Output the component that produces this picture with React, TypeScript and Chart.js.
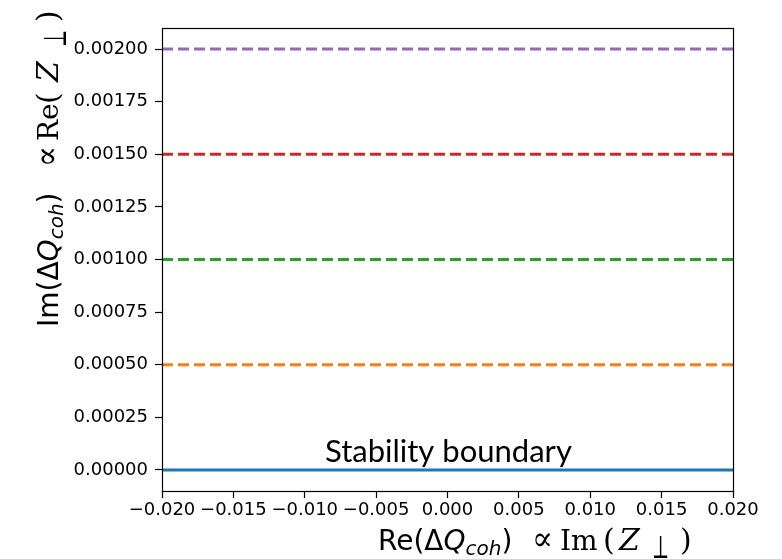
import React, { useEffect, useRef } from 'react';
import { Chart, registerables } from 'chart.js';

Chart.register(...registerables);

// ---- data ----
const xRange = [-0.02, 0.02];
const levels = [0, 0.0005, 0.001, 0.0015, 0.002];
const levelColors = ['#1f77b4', '#ff7f0e', '#2ca02c', '#d62728', '#9467bd'];
const levelDashed = [false, true, true, true, true];
const xTickValues = [-0.02, -0.015, -0.01, -0.005, 0, 0.005, 0.01, 0.015, 0.02];
const yTickValues = [0, 0.00025, 0.0005, 0.00075, 0.001, 0.00125, 0.0015, 0.00175, 0.002];
const yMin = -0.0001;
const yMax = 0.0021;
const annotationText = 'Stability boundary';

const SANS = '"DejaVu Sans"';
const SERIF = '"DejaVu Serif"';

type Run = { t: string; f: string; x?: number; dy?: number; w?: number };

const xTitleRuns: Run[] = [
  { t: 'Re(', f: `28px ${SANS}`, x: 0 },
  { t: 'Δ', f: `28px ${SANS}` },
  { t: 'Q', f: `oblique 28px ${SANS}` },
  { t: 'coh', f: `oblique 20px ${SANS}`, dy: 5 },
  { t: ')', f: `28px ${SANS}` },
  { t: '∝', f: `34px ${SERIF}`, x: 154, w: 21 },
  { t: 'Im', f: `28px ${SERIF}`, x: 182 },
  { t: '(', f: `30px ${SERIF}`, x: 225 },
  { t: 'Z', f: `italic 30px ${SERIF}`, x: 241 },
  { t: '⊥', f: `32px ${SERIF}`, x: 274, dy: 8, w: 17 },
  { t: ')', f: `30px ${SERIF}`, x: 302 },
];

const yTitleRuns: Run[] = [
  { t: 'Im(', f: `28px ${SANS}`, x: 0 },
  { t: 'Δ', f: `28px ${SANS}` },
  { t: 'Q', f: `oblique 28px ${SANS}` },
  { t: 'coh', f: `oblique 20px ${SANS}`, dy: 5 },
  { t: ')', f: `28px ${SANS}` },
  { t: '∝', f: `34px ${SERIF}`, x: 160, w: 21 },
  { t: 'Re', f: `28px ${SERIF}`, x: 186 },
  { t: '(', f: `30px ${SERIF}`, x: 223 },
  { t: 'Z', f: `italic 30px ${SERIF}`, x: 245 },
  { t: '⊥', f: `32px ${SERIF}`, x: 280, dy: 8, w: 17 },
  { t: ')', f: `30px ${SERIF}`, x: 305 },
];

function drawRuns(ctx: CanvasRenderingContext2D, runs: Run[]) {
  let cx = 0;
  for (const r of runs) {
    if (r.x !== undefined) cx = r.x;
    ctx.font = r.f;
    const mw = ctx.measureText(r.t).width;
    if (r.w) {
      // fit glyph horizontally to the target width
      ctx.save();
      ctx.translate(cx, r.dy || 0);
      ctx.scale(r.w / mw, 1);
      ctx.fillText(r.t, 0, 0);
      ctx.restore();
      cx += r.w;
    } else {
      ctx.fillText(r.t, cx, r.dy || 0);
      cx += mw;
    }
  }
}

const overlayPlugin = {
  id: 'overlay',
  afterDraw(chart: any) {
    const ctx: CanvasRenderingContext2D = chart.ctx;
    const a = chart.chartArea;
    ctx.save();
    // frame
    ctx.strokeStyle = '#000';
    ctx.lineWidth = 1.2;
    ctx.strokeRect(Math.round(a.left) + 0.5, Math.round(a.top) + 0.5, Math.round(a.right - a.left), Math.round(a.bottom - a.top));

    ctx.fillStyle = '#000';
    ctx.textBaseline = 'alphabetic';
    ctx.textAlign = 'left';

    // x title
    ctx.save();
    ctx.translate(378, 550);
    drawRuns(ctx, xTitleRuns);
    ctx.restore();

    // y title
    ctx.save();
    ctx.translate(58, 327);
    ctx.rotate(-Math.PI / 2);
    drawRuns(ctx, yTitleRuns);
    ctx.restore();

    // annotation text
    let size = 30;
    ctx.font = `${size}px Lato`;
    const w = ctx.measureText(annotationText).width;
    size = size * 247 / w;
    ctx.font = `${size}px Lato`;
    ctx.fillText(annotationText, 325, 462);
    ctx.restore();
  },
};

const fmtX = (v: number) => (v < -1e-12 ? '\u2212' : '') + Math.abs(v).toFixed(3);
const fmtY = (v: number) => Math.abs(v) < 1e-12 ? '0.00000' : v.toFixed(5);

export default function App() {
  const ref = useRef<HTMLCanvasElement>(null);
  useEffect(() => {
    if (!ref.current) return;
    const chart = new Chart(ref.current, {
      type: 'line',
      data: {
        datasets: levels.map((lv, i) => ({
          label: String(lv),
          data: xRange.map((x) => ({ x, y: lv })),
          borderColor: levelColors[i],
          backgroundColor: levelColors[i],
          borderWidth: 3,
          borderDash: levelDashed[i] ? [11, 5] : [],
          borderCapStyle: 'butt',
          pointRadius: 0,
          fill: false,
          tension: 0,
        })),
      },
      options: {
        responsive: false,
        animation: false,
        events: [],
        layout: { padding: { left: 0, right: 49, top: 28, bottom: 0 } },
        plugins: { legend: { display: false }, tooltip: { enabled: false }, title: { display: false } },
        scales: {
          x: {
            type: 'linear',
            min: xRange[0],
            max: xRange[1],
            afterBuildTicks: (s: any) => { s.ticks = xTickValues.map((v) => ({ value: v })); },
            afterFit: (s: any) => { s.height = 68; },
            ticks: {
              callback: (v: any) => fmtX(Number(v)),
              font: { family: 'DejaVu Sans', size: 18 },
              color: '#000',
              maxRotation: 0,
              autoSkip: false,
              padding: 2,
            },
            grid: { drawOnChartArea: false, drawTicks: true, tickLength: 7, tickColor: '#000', tickWidth: 1.2 },
            border: { display: false },
          },
          y: {
            type: 'linear',
            min: yMin,
            max: yMax,
            afterBuildTicks: (s: any) => { s.ticks = yTickValues.map((v) => ({ value: v })); },
            afterFit: (s: any) => { s.width = 162; },
            ticks: {
              callback: (v: any) => fmtY(Number(v)),
              font: { family: 'DejaVu Sans', size: 18 },
              color: '#000',
              autoSkip: false,
              padding: 7,
            },
            grid: { drawOnChartArea: false, drawTicks: true, tickLength: 7, tickColor: '#000', tickWidth: 1.2 },
            border: { display: false },
          },
        },
      },
      plugins: [overlayPlugin],
    } as any);
    return () => chart.destroy();
  }, []);
  return (
    <div style={{ position: 'absolute', left: 0, top: 0, width: 782, height: 559, background: '#fff' }}>
      <canvas ref={ref} width={782} height={559} style={{ display: 'block' }} />
    </div>
  );
}
